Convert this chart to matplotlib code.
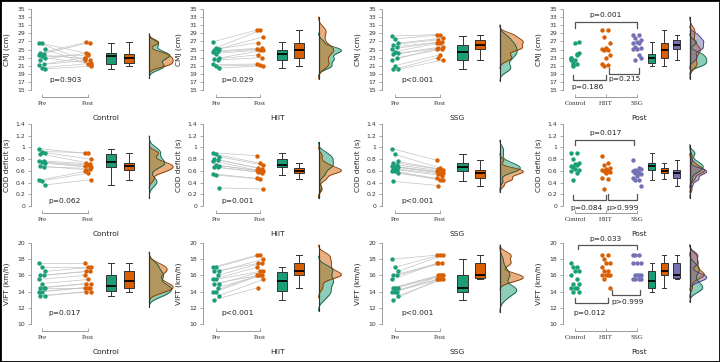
import numpy as np
import matplotlib
matplotlib.use("Agg")
import matplotlib.pyplot as plt
from matplotlib.patches import Rectangle

# ---------------- data ----------------
groups = ["Control", "HIIT", "SSG"]
measures = ["CMJ (cm)", "COD deficit (s)", "VIFT (km/h)"]

cmj_control_pre = [26.6, 26.5, 25.1, 24.1, 24.0, 23.6, 23.3, 22.9, 22.5, 21.3, 21.2, 20.5, 20.2]
cmj_control_post = [22.3, 24.0, 21.1, 26.8, 26.7, 22.8, 23.6, 21.6, 24.1, 22.4, 23.0, 21.5, 20.9]
cmj_hiit_pre = [26.9, 25.4, 25.2, 25.0, 24.6, 24.3, 24.0, 22.9, 22.6, 22.4, 21.3, 20.9, 20.4]
cmj_hiit_post = [29.8, 29.7, 28.1, 26.7, 25.4, 25.1, 24.9, 24.8, 23.7, 23.0, 21.4, 21.2, 21.0]
cmj_ssg_pre = [28.3, 27.6, 26.6, 26.2, 25.7, 25.1, 24.5, 24.1, 23.8, 22.9, 22.4, 21.0, 20.1, 20.1]
cmj_ssg_post = [28.7, 28.6, 27.8, 27.4, 26.9, 26.7, 26.6, 25.7, 25.3, 25.1, 25.2, 23.7, 22.4, 23.0]

cod_control_pre = [0.98, 0.93, 0.91, 0.89, 0.77, 0.76, 0.75, 0.73, 0.68, 0.67, 0.44, 0.43, 0.36]
cod_control_post = [0.90, 0.91, 0.80, 0.74, 0.72, 0.68, 0.70, 0.66, 0.62, 0.64, 0.59, 0.56, 0.45]
cod_hiit_pre = [0.91, 0.88, 0.84, 0.80, 0.79, 0.77, 0.70, 0.69, 0.67, 0.66, 0.55, 0.53, 0.31]
cod_hiit_post = [0.86, 0.73, 0.70, 0.65, 0.63, 0.61, 0.60, 0.59, 0.58, 0.57, 0.47, 0.46, 0.29]
cod_ssg_pre = [0.98, 0.88, 0.76, 0.74, 0.70, 0.68, 0.67, 0.66, 0.64, 0.62, 0.60, 0.59, 0.56, 0.42]
cod_ssg_post = [0.78, 0.65, 0.62, 0.63, 0.60, 0.59, 0.57, 0.56, 0.55, 0.52, 0.47, 0.45, 0.44, 0.35]

vift_control_pre = [17.5, 17.0, 16.5, 16.0, 16.0, 15.5, 15.0, 14.5, 14.5, 14.5, 14.0, 14.0, 13.5, 13.5]
vift_control_post = [17.5, 17.0, 17.0, 16.5, 16.5, 16.0, 15.5, 15.0, 15.0, 14.5, 14.5, 14.5, 14.0, 14.0]
vift_hiit_pre = [17.0, 17.0, 16.5, 16.5, 16.0, 15.5, 15.5, 15.0, 15.0, 14.5, 14.0, 14.0, 13.5, 13.0]
vift_hiit_post = [18.5, 18.5, 18.0, 17.5, 17.5, 17.0, 16.5, 16.5, 16.0, 16.0, 16.0, 16.0, 15.5, 14.5]
vift_ssg_pre = [18.0, 17.0, 16.5, 16.0, 16.0, 15.5, 14.5, 14.5, 14.5, 14.0, 14.0, 14.0, 13.5, 13.0]
vift_ssg_post = [18.5, 18.5, 18.5, 17.5, 17.5, 17.5, 16.0, 16.0, 16.0, 16.0, 15.5, 15.5, 15.5, 15.5]

cmj_ticks = [15, 17, 19, 21, 23, 25, 27, 29, 31, 33, 35]
cod_ticks = [0, 0.2, 0.4, 0.6, 0.8, 1.0, 1.2, 1.4]
cod_ticklabels = ["0", "0.2", "0.4", "0.6", "0.8", "1", "1.2", "1.4"]
vift_ticks = [10, 12, 14, 16, 18, 20]

prepost_labels = ["Pre", "Post"]
pvals_prepost = [["p=0.903", "p=0.029", "p<0.001"],
                 ["p=0.062", "p=0.001", "p<0.001"],
                 ["p=0.017", "p<0.001", "p<0.001"]]
# between-group post tests: (Control vs SSG, Control vs HIIT, HIIT vs SSG)
pvals_between = [["p=0.001", "p=0.186", "p=0.215"],
                 ["p=0.017", "p=0.084", "p>0.999"],
                 ["p=0.033", "p=0.012", "p>0.999"]]

data = [
    [(cmj_control_pre, cmj_control_post), (cmj_hiit_pre, cmj_hiit_post), (cmj_ssg_pre, cmj_ssg_post)],
    [(cod_control_pre, cod_control_post), (cod_hiit_pre, cod_hiit_post), (cod_ssg_pre, cod_ssg_post)],
    [(vift_control_pre, vift_control_post), (vift_hiit_pre, vift_hiit_post), (vift_ssg_pre, vift_ssg_post)],
]
row_ticks = [cmj_ticks, cod_ticks, vift_ticks]
row_ticklabels = [[str(t) for t in cmj_ticks], cod_ticklabels, [str(t) for t in vift_ticks]]

# ---------------- style ----------------
GREEN, ORANGE, PURPLE = "#1b9e77", "#d95f02", "#7570b3"
EDGES = {GREEN: "#0e5a43", ORANGE: "#7d3700", PURPLE: "#3f3a78"}
col_colors = [GREEN, ORANGE, PURPLE]
SPINE = "#9a9a9a"
TXT = "#222222"

W, H = 720, 362
fig = plt.figure(figsize=(W / 100, H / 100), dpi=100)

col_spine_px = [31, 203, 382, 563]
col_origin_px = [42, 216, 395, 575]
col_unit_px = [46, 44, 45, 31]
col_width_px = [150, 150, 150, 152]
row_top_px = [9, 124, 243]
row_bot_px = [90, 206, 324]

# row-dependent text y positions (data units)
ptext_y = [17.5, 0.09, 11.4]


def kde(vals, adjust=0.6, cut=3, npts=200):
    v = np.asarray(vals, float)
    n = len(v)
    h = adjust * v.std(ddof=1) * n ** (-0.2)
    grid = np.linspace(v.min() - cut * h, v.max() + cut * h, npts)
    d = np.exp(-0.5 * ((grid[:, None] - v[None, :]) / h) ** 2).sum(1) / (n * h * np.sqrt(2 * np.pi))
    return grid, d


def draw_box(ax, vals, pos, width, color):
    bp = ax.boxplot([vals], positions=[pos], widths=width, patch_artist=True,
                    showfliers=False, manage_ticks=False,
                    boxprops=dict(facecolor=color, edgecolor="#333333", linewidth=0.7),
                    medianprops=dict(color="black", linewidth=1.3),
                    whiskerprops=dict(color="#333333", linewidth=0.7),
                    capprops=dict(color="#333333", linewidth=0.7))
    for c in bp["caps"]:
        x = c.get_xdata()
        m = (x[0] + x[1]) / 2
        c.set_xdata([m - width * 0.3, m + width * 0.3])
    return bp


def draw_densities(ax, series, colors, base, maxw):
    dens = [kde(s) for s in series]
    mx = max(d.max() for _, d in dens)
    for (g, d), c in zip(dens, colors):
        w = d / mx * maxw
        ax.fill_betweenx(g, base, base + w, color=c, alpha=0.5, lw=0)
        ax.plot(base + w, g, color=EDGES[c], lw=0.6)
        ax.plot([base, base], [g[0], g[-1]], color="#333333", lw=0.8)


def style_axis(ax, r, c, xticks, xticklabels, xlabel, ylabel):
    ticks = row_ticks[r]
    ax.set_ylim(ticks[0], ticks[-1])
    ax.set_yticks(ticks)
    ax.set_yticklabels(row_ticklabels[r], fontsize=4.4, color="#333333")
    for s in ["top", "right"]:
        ax.spines[s].set_visible(False)
    ax.spines["left"].set_color(SPINE)
    ax.spines["left"].set_linewidth(0.7)
    ax.spines["bottom"].set_color(SPINE)
    ax.spines["bottom"].set_linewidth(0.7)
    ax.spines["bottom"].set_position(("outward", 5))
    ax.spines["bottom"].set_bounds(xticks[0], xticks[-1])
    ax.set_xticks(xticks)
    ax.set_xticklabels(xticklabels, fontsize=5.0, family="Liberation Serif", color="#333333")
    ax.tick_params(axis="y", length=2, width=0.6, color=SPINE, pad=2)
    ax.tick_params(axis="x", length=2, width=0.6, color=SPINE, pad=3, direction="in")
    ax.set_ylabel(ylabel, fontsize=5.3, color=TXT)
    ax.set_xlabel(xlabel, fontsize=5.4, color=TXT)
    hpx = row_bot_px[r] - row_top_px[r]
    wpx = col_width_px[c]
    ax.yaxis.set_label_coords(-21 / wpx, 0.5)
    ax.xaxis.set_label_coords(0.5, -25 / hpx)
    ax.patch.set_alpha(0)


def bracket(ax, x0, x1, y, tip, text, tx, ty):
    ax.plot([x0, x0, x1, x1], [tip, y, y, tip], color="#555555", lw=0.9, clip_on=False)
    ax.text(tx, ty, text, ha="center", va="center", fontsize=5.4, color=TXT, clip_on=False)


# bracket layouts for between-group panels: (x0, x1, y, tip, tx, ty) per row
bracket_layout = [
    [(0.0, 2.0, 31.9, 30.3, 0.97, 33.5), (-0.05, 1.0, 17.5, 18.7, 0.42, 15.7), (1.1, 2.05, 19.0, 20.4, 1.6, 17.6)],
    [(0.0, 1.9, 1.13, 1.04, 0.97, 1.25), (-0.05, 1.0, 0.10, 0.19, 0.38, -0.03), (1.07, 2.0, 0.10, 0.21, 1.55, -0.03)],
    [(0.1, 2.0, 19.8, 19.3, 0.97, 20.5), (0.0, 1.05, 12.6, 13.2, 0.48, 11.4), (1.2, 2.1, 13.6, 14.2, 1.68, 12.7)],
]

for r in range(3):
    for c in range(4):
        sp, org, unit, wpx = col_spine_px[c], col_origin_px[c], col_unit_px[c], col_width_px[c]
        top, bot = row_top_px[r], row_bot_px[r]
        ax = fig.add_axes([sp / W, 1 - bot / H, wpx / W, (bot - top) / H])
        ax.set_xlim((sp - org) / unit, (sp + wpx - org) / unit)
        if c < 3:
            pre, post = data[r][c]
            n = len(pre)
            jit = (np.arange(n) * 7 % 5 - 2) * 0.035
            for i in range(n):
                ax.plot([0 + jit[i], 1 + jit[i]], [pre[i], post[i]], color="#c4c4c4", lw=0.5, zorder=1)
            ax.scatter(0 + jit, pre, s=10, color=GREEN, zorder=3, lw=0)
            ax.scatter(1 + jit, post, s=10, color=ORANGE, zorder=3, lw=0)
            draw_box(ax, pre, 1.5, 0.23, GREEN)
            draw_box(ax, post, 1.89, 0.23, ORANGE)
            draw_densities(ax, [pre, post], [GREEN, ORANGE], 2.33, 0.52)
            ax.text(0.5, ptext_y[r], pvals_prepost[r][c], ha="center", va="center",
                    fontsize=5.4, color=TXT)
            style_axis(ax, r, c, [0, 1], prepost_labels, groups[c], measures[r])
        else:
            posts = [data[r][g][1] for g in range(3)]
            for g in range(3):
                v = posts[g]
                n = len(v)
                jit = (np.arange(n) * 3 % 5 - 2) * 0.06
                ax.scatter(g + jit, v, s=10, color=col_colors[g], zorder=3, lw=0)
            for g, bx in enumerate([2.47, 2.88, 3.28]):
                draw_box(ax, posts[g], bx, 0.22, col_colors[g])
            draw_densities(ax, posts, col_colors, 3.7, 0.55)
            for k in range(3):
                x0, x1, y, tip, tx, ty = bracket_layout[r][k]
                bracket(ax, x0, x1, y, tip, pvals_between[r][k], tx, ty)
            style_axis(ax, r, c, [0, 1, 2], groups, "Post", measures[r])

fig.add_artist(Rectangle((0, 0), 1, 1, transform=fig.transFigure, fill=False,
                         lw=2.0, edgecolor="black"))
fig.savefig("out.png", dpi=100)
